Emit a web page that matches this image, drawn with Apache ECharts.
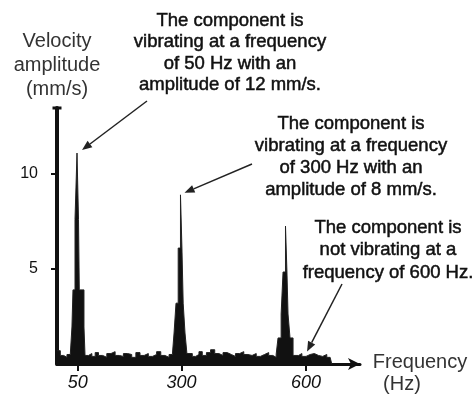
<!DOCTYPE html>
<html>
<head>
<meta charset="utf-8">
<script src="https://cdn.jsdelivr.net/npm/echarts@6/dist/echarts.min.js"></script>
<style>
  html, body { margin: 0; padding: 0; background: #fff; }
  #chart { width: 473px; height: 394px; }
</style>
</head>
<body>
<div id="chart"></div>
<script>
// ---- data ----
const freqTicks = [50, 300, 600];
const ampTicks = [5, 10];

// spectrum as [Hz, mm/s], drawn as steps (each value holds until the next Hz)
const noiseA = [[0, 0.7], [8, 0.45], [16, 0.35], [24, 0.5], [32, 0.4]];
const peak50 = [[36, 1.95], [38.5, 3.9], [43.4, 7.6], [48.2, 11.1], [51.8, 7.6], [53.7, 3.9], [65, 1.95]];
const noiseB = [[67.5, 0.45], [76, 0.55], [84, 0.4], [92, 0.6], [100, 0.45], [110, 0.35], [120, 0.55], [130, 0.65],
  [140, 0.45], [150, 0.4], [160, 0.55], [170, 0.5], [180, 0.35], [190, 0.6], [200, 0.45], [210, 0.55],
  [220, 0.4], [230, 0.5], [240, 0.65], [250, 0.45], [260, 0.35], [270, 0.5], [278, 0.55]];
const peak300 = [[282, 1.63], [286.7, 3.2], [292, 6.1], [297.5, 8.9], [301, 6.1], [304, 3.2], [308.4, 1.63]];
const noiseC = [[313, 0.55], [326, 0.4], [334, 0.5], [342, 0.65], [350, 0.45], [360, 0.6], [370, 0.75],
  [380, 0.55], [390, 0.45], [400, 0.6], [410, 0.5], [420, 0.4], [430, 0.55], [440, 0.65], [450, 0.5],
  [460, 0.45], [470, 0.55], [480, 0.4], [490, 0.5], [500, 0.6], [510, 0.45], [520, 0.35], [528, 0.5]];
const peak555 = [[532.5, 1.37], [540, 2.63], [544.6, 4.84], [550.5, 7.26], [554, 4.84], [556.6, 2.63], [561.4, 1.37]];
const noiseD = [[568.7, 0.45], [582, 0.55], [590, 0.4], [600, 0.5], [610, 0.55], [620, 0.45], [630, 0.4],
  [640, 0.5], [650, 0.35], [658, 0.25], [662, 0]];

const spectrum = [].concat(noiseA, peak50, noiseB, peak300, noiseC, peak555, noiseD);

const yTitle = ["Velocity", "amplitude", "(mm/s)"];
const xTitle = ["Frequency", "(Hz)"];
const notes = [
  ["The component is", "vibrating at a frequency", "of 50 Hz with an", "amplitude of 12 mm/s."],
  ["The component is", "vibrating at a frequency", "of 300 Hz with an", "amplitude of 8 mm/s."],
  ["The component is", "not vibrating at a", "frequency of 600 Hz."],
];

const peakTop = arr => arr.reduce((a, b) => (b[1] > a[1] ? b : a));

const chart = echarts.init(document.getElementById("chart"), null, { renderer: "canvas" });

const ink = "#111";
chart.setOption({
  animation: false,
  backgroundColor: "#fff",
  grid: { left: 57, right: 113, top: 108, bottom: 30 },
  xAxis: {
    type: "value", min: 0, max: 730,
    splitLine: { show: false },
    axisLine: { lineStyle: { color: ink, width: 3 }, symbol: ["none", "arrow"], symbolSize: [9, 12] },
    axisTick: { customValues: freqTicks, length: 7, lineStyle: { color: ink, width: 2 } },
    axisLabel: {
      customValues: freqTicks, margin: 10, color: ink,
      fontFamily: "Liberation Sans", fontSize: 18, fontStyle: "italic",
    },
  },
  yAxis: {
    type: "value", min: 0, max: 13.47,
    splitLine: { show: false },
    axisLine: { lineStyle: { color: ink, width: 4 }, symbol: ["none", "rect"], symbolSize: [9, 3] },
    axisTick: { customValues: ampTicks, length: 6, lineStyle: { color: ink, width: 2 } },
    axisLabel: {
      customValues: ampTicks, margin: 19, color: ink,
      fontFamily: "Liberation Sans", fontSize: 16,
    },
  },
  series: [{
    type: "line", step: "end", data: spectrum, symbol: "none", silent: true,
    lineStyle: { color: "#222", width: 1 },
    areaStyle: { color: ink, opacity: 1 },
  }],
});

// ---- texts and arrows ----
function textBlock(x, y, lines, size, lh, color, bold) {
  return {
    type: "text", x, y, silent: true,
    style: {
      text: lines.join("\n"), align: "center", verticalAlign: "middle",
      font: `${size}px "Liberation Sans", Arial, sans-serif`, lineHeight: lh, fill: color,
      stroke: bold ? color : null, lineWidth: bold ? 0.5 : 0,
    },
  };
}

function arrow(x1, y1, x2, y2) {
  const a = Math.atan2(y2 - y1, x2 - x1);
  const len = 10, half = 4;
  const bx = x2 - len * Math.cos(a), by = y2 - len * Math.sin(a);
  const px = -Math.sin(a) * half, py = Math.cos(a) * half;
  return [
    { type: "line", silent: true, shape: { x1, y1, x2: bx, y2: by }, style: { stroke: "#222", lineWidth: 1.5 } },
    { type: "polygon", silent: true, shape: { points: [[x2, y2], [bx + px, by + py], [bx - px, by - py]] }, style: { fill: "#222" } },
  ];
}

const toPx = p => chart.convertToPixel({ gridIndex: 0 }, p);
const t50 = toPx(peakTop(peak50)), t300 = toPx(peakTop(peak300)), t600 = toPx([600, 0.5]);

chart.setOption({
  graphic: [
    textBlock(57, 65, yTitle, 20, 24, "#333", false),
    textBlock(420, 362, [xTitle[0]], 20, 24, "#333", false),
    textBlock(402, 384, [xTitle[1]], 20, 24, "#333", false),
    textBlock(230, 53, notes[0], 18.5, 21.5, ink, true),
    textBlock(351, 157, notes[1], 18.5, 22, ink, true),
    textBlock(388, 250, notes[2], 18.5, 22.5, ink, true),
    ...arrow(147, 101, t50[0] + 5, t50[1] - 3),
    ...arrow(252, 164, t300[0] + 4, t300[1] - 2),
    ...arrow(342, 284, t600[0] + 1, t600[1] - 3),
  ],
});
</script>
</body>
</html>
